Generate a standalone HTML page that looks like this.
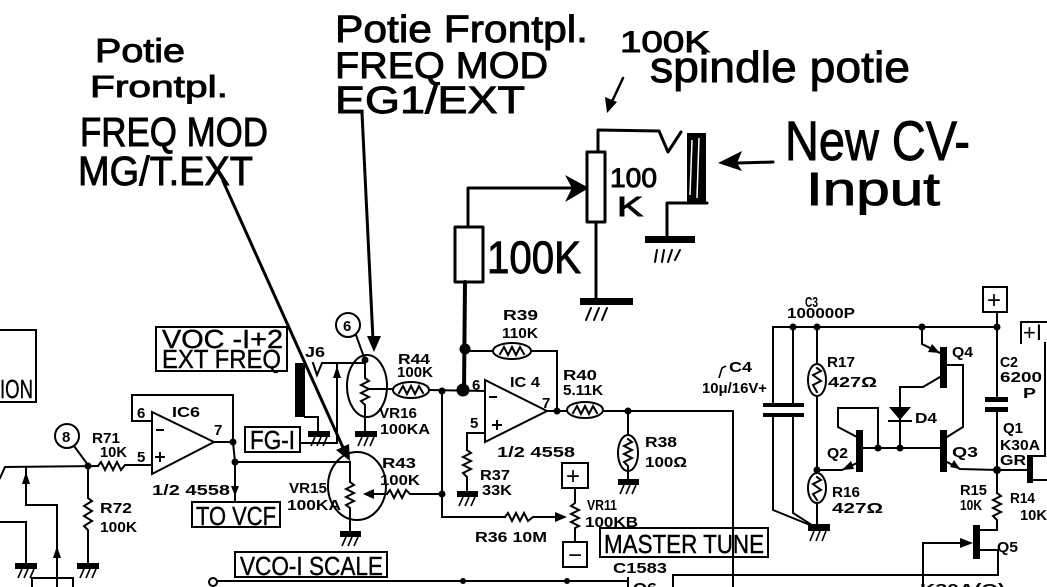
<!DOCTYPE html>
<html><head><meta charset="utf-8">
<style>
html,body{margin:0;padding:0;background:#fff;}
svg{display:block}
text{font-family:"Liberation Sans",sans-serif;fill:#000;stroke:none}
.b{font-weight:bold;font-size:15px}
.bx{font-weight:normal;font-size:26px;stroke:#000;stroke-width:0.4}
.h{font-weight:normal;stroke:#000;stroke-width:0.9}
</style></head><body>
<svg width="1047" height="587" viewBox="0 0 1047 587" xmlns="http://www.w3.org/2000/svg">
<rect width="1047" height="587" fill="#fff"/>

<!-- ===== handwritten annotations ===== -->
<text class="h" x="95" y="62" font-size="33" textLength="90" lengthAdjust="spacingAndGlyphs">Potie</text>
<text class="h" x="90" y="97" font-size="31" textLength="138" lengthAdjust="spacingAndGlyphs">Frontpl.</text>
<text class="h" x="80" y="146" font-size="41" textLength="188" lengthAdjust="spacingAndGlyphs">FREQ MOD</text>
<text class="h" x="78" y="185" font-size="41" textLength="175" lengthAdjust="spacingAndGlyphs">MG/T.EXT</text>

<text class="h" x="335" y="42" font-size="38" textLength="253" lengthAdjust="spacingAndGlyphs">Potie Frontpl.</text>
<text class="h" x="335" y="78" font-size="37" textLength="213" lengthAdjust="spacingAndGlyphs">FREQ MOD</text>
<text class="h" x="335" y="113" font-size="38" textLength="190" lengthAdjust="spacingAndGlyphs">EG1/EXT</text>

<text class="h" x="620" y="52" font-size="30" textLength="90" lengthAdjust="spacingAndGlyphs">100K</text>
<text class="h" x="650" y="82" font-size="44" textLength="260" lengthAdjust="spacingAndGlyphs">spindle potie</text>
<text class="h" x="785" y="160" font-size="56" textLength="185" lengthAdjust="spacingAndGlyphs">New CV-</text>
<text class="h" x="806" y="205" font-size="46" textLength="134" lengthAdjust="spacingAndGlyphs">Input</text>
<text class="h" x="487" y="273" font-size="45" textLength="94" lengthAdjust="spacingAndGlyphs">100K</text>
<text class="h" x="610" y="187" font-size="27" textLength="47" lengthAdjust="spacingAndGlyphs">100</text>
<text class="h" x="617" y="216" font-size="28" textLength="26" lengthAdjust="spacingAndGlyphs">K</text>

<g fill="none" stroke="#000" stroke-linecap="round" stroke-linejoin="round">
  <!-- pointer lines -->
  <line x1="223" y1="181" x2="345" y2="452" stroke-width="3"/>
  <line x1="362" y1="113" x2="373" y2="340" stroke-width="3"/>
  <!-- handwritten circuit -->
  <rect x="455" y="227" width="28" height="55" stroke-width="3"/>
  <polyline points="468,227 468,188 572,188" stroke-width="3"/>
  <rect x="587" y="152" width="18" height="70" stroke-width="3"/>
  <polyline points="598,152 598,130 659,131 668,152 681,132" stroke-width="3"/>
  <polyline points="707,203 667,203 667,237" stroke-width="3"/>
  <line x1="596" y1="222" x2="596" y2="299" stroke-width="3"/>
  <line x1="773" y1="162" x2="738" y2="163" stroke-width="3"/>
  <line x1="623" y1="78" x2="609" y2="108" stroke-width="2.5"/>
  <line x1="465" y1="282" x2="464" y2="390" stroke-width="4"/>
  <g stroke-width="2">
    <line x1="586" y1="320" x2="591" y2="308"/><line x1="594" y1="320" x2="599" y2="308"/><line x1="602" y1="320" x2="607" y2="308"/>
    <line x1="655" y1="262" x2="657" y2="250"/><line x1="662" y1="262" x2="664" y2="250"/><line x1="668" y1="262" x2="672" y2="250"/><line x1="675" y1="260" x2="680" y2="250"/>
  </g>
</g>
<g fill="#000" stroke="none">
  <polygon points="350,461 336,450 349,444"/>
  <polygon points="374,352 367,336 381,336"/>
  <polygon points="589,188 565,175 572,188 565,202"/>
  <polygon points="718,163 742,151 737,163 742,171"/>
  <polygon points="607,113 605,97 617,102"/>
  <rect x="687" y="133" width="19" height="70"/>
  <rect x="580" y="298" width="53" height="7"/>
  <rect x="645" y="236" width="50" height="7"/>
</g>
<g stroke="#fff" stroke-width="1.5">
  <line x1="692" y1="140" x2="690" y2="195"/><line x1="699" y1="138" x2="697" y2="198"/>
</g>

<!-- ===== printed schematic ===== -->
<g fill="none" stroke="#000" stroke-width="2" stroke-linecap="square" stroke-linejoin="miter">
  <polyline points="0,330 36,330 36,402 0,402"/>
  <rect x="156" y="327" width="131" height="44"/>
  <rect x="192" y="502" width="88" height="25"/>
  <rect x="245" y="427" width="55" height="25"/>
  <rect x="235" y="552" width="152" height="25"/>
  <rect x="600" y="528" width="168" height="29"/>
  <circle cx="67" cy="436" r="12"/>
  <line x1="74" y1="446" x2="88" y2="465"/>
  <polyline points="0,478 5,467 98,466"/>
  <path d="M98,466 L101,462 L105,470 L109,462 L113,470 L117,462 L121,470 L125,465 L152,465"/>
  <polyline points="26,467 26,505 57,505 57,587"/>
  <polyline points="0,522 26,522 26,565"/>
  <path d="M88,466 L88,498 L92,501 L84,506 L92,511 L84,516 L92,521 L84,526 L88,530 L88,565"/>
  <polyline points="32,587 32,578 73,578 73,587"/>
  <polygon points="152,412 152,474 214,442"/>
  <polyline points="152,421 132,421 132,395 233,395 233,442"/>
  <polyline points="214,442 233,442 235,462 348,462"/>
  <line x1="235" y1="462" x2="235" y2="502"/>
  <line x1="157" y1="430" x2="163" y2="430"/>
  <line x1="156" y1="457" x2="164" y2="457"/><line x1="160" y1="453" x2="160" y2="461"/>
  <polyline points="313,363 317,375 322,363 365,363"/>
  <line x1="337" y1="363" x2="337" y2="443"/>
  <line x1="300" y1="443" x2="337" y2="443"/>
  <polyline points="305,417 318,417 318,433"/>
  <circle cx="348" cy="325" r="12"/>
  <line x1="356" y1="335" x2="365" y2="360"/>
  <ellipse cx="367" cy="386" rx="20" ry="31"/>
  <path d="M365,360 L365,378 L369,381 L361,385 L369,389 L361,393 L369,397 L361,401 L365,405 L365,433"/>
  <line x1="369" y1="389" x2="393" y2="389"/>
  <ellipse cx="411" cy="390" rx="18" ry="8"/>
  <path d="M399,393 L403,386 L407,394 L411,386 L415,394 L419,386 L423,393"/>
  <line x1="429" y1="390" x2="485" y2="391"/>
  <ellipse cx="357" cy="486" rx="29" ry="34"/>
  <path d="M350,462 L350,482 L354,485 L346,489 L354,493 L346,497 L354,501 L346,505 L350,508 L350,533"/>
  <line x1="366" y1="494" x2="387" y2="494"/>
  <path d="M387,494 L390,490 L394,498 L398,490 L402,498 L406,490 L410,494 L442,494"/>
  <polyline points="442,391 442,517 505,517"/>
  <path d="M505,517 L508,513 L512,521 L516,513 L520,521 L524,513 L528,521 L533,517 L558,517"/>
  <line x1="465" y1="351" x2="493" y2="351"/>
  <ellipse cx="512" cy="351" rx="19" ry="8"/>
  <path d="M500,354 L504,347 L508,355 L512,347 L516,355 L520,347 L524,354"/>
  <polyline points="531,351 557,351 557,411"/>
  <polygon points="485,380 485,442 547,411"/>
  <line x1="490" y1="397" x2="496" y2="397"/>
  <line x1="493" y1="425" x2="501" y2="425"/><line x1="497" y1="421" x2="497" y2="429"/>
  <polyline points="485,433 467,433 467,450"/>
  <path d="M467,450 L471,453 L463,457 L471,461 L463,465 L471,469 L463,473 L467,477 L467,493"/>
  <line x1="547" y1="411" x2="567" y2="411"/>
  <ellipse cx="585" cy="410" rx="18" ry="8"/>
  <path d="M573,413 L577,406 L581,414 L585,406 L589,414 L593,406 L597,413"/>
  <polyline points="603,411 733,411 733,587"/>
  <line x1="628" y1="411" x2="628" y2="435"/>
  <ellipse cx="628" cy="453" rx="10" ry="18"/>
  <path d="M628,439 L632,442 L624,446 L632,450 L624,454 L632,458 L624,462 L628,466 L628,481"/>
  <rect x="562" y="463" width="26" height="25"/>
  <path d="M575,488 L575,503 L571,506 L579,510 L571,514 L579,518 L571,522 L579,526 L575,528 L575,542"/>
  <rect x="563" y="542" width="24" height="25"/>
  <circle cx="213" cy="582" r="4"/>
  <line x1="217" y1="581" x2="628" y2="581"/>
  <line x1="628" y1="578" x2="628" y2="587"/>
  <polyline points="673,587 673,575 998,575 998,550 980,550"/>
  <line x1="923" y1="543" x2="923" y2="587"/>
  <line x1="923" y1="543" x2="962" y2="543"/>
  <line x1="773" y1="327" x2="997" y2="327"/>
  <polyline points="773,327 773,404"/>
  <polyline points="773,416 773,510 815,527"/>
  <polyline points="793,327 793,404"/>
  <polyline points="793,416 793,513 815,527"/>
  <line x1="817" y1="327" x2="817" y2="364"/>
  <ellipse cx="817" cy="380" rx="9" ry="16"/>
  <path d="M817,368 L821,371 L813,375 L817,378 L821,381 L813,385 L817,392"/>
  <line x1="817" y1="396" x2="817" y2="473"/>
  <ellipse cx="817" cy="488" rx="9" ry="15"/>
  <path d="M817,477 L821,480 L813,484 L817,487 L821,490 L813,494 L817,500"/>
  <line x1="817" y1="503" x2="817" y2="525"/>
  <polyline points="857,437 838,427 838,408 878,408 878,448"/>
  <line x1="863" y1="448" x2="940" y2="448"/>
  <polyline points="857,463 842,470 817,470"/>
  <line x1="900" y1="387" x2="900" y2="448"/>
  <line x1="889" y1="421" x2="911" y2="421"/>
  <polyline points="922,327 922,344 940,353"/>
  <polyline points="947,365 963,365 963,427 947,437"/>
  <polyline points="940,377 923,387 900,387"/>
  <polyline points="947,462 960,469 997,470"/>
  <rect x="983" y="287" width="24" height="25"/>
  <line x1="997" y1="312" x2="997" y2="398"/>
  <line x1="997" y1="411" x2="997" y2="493"/>
  <line x1="997" y1="470" x2="1027" y2="470"/>
  <path d="M997,493 L1001,496 L993,500 L1001,504 L993,508 L1001,512 L993,516 L997,520 L997,530 L980,530"/>
  <polyline points="1021,343 1021,322 1047,322"/>
  <polyline points="1033,456 1045,456 1045,343"/>
  <line x1="1033" y1="480" x2="1047" y2="480"/>
</g>

<g fill="#000" stroke="none">
  <circle cx="88" cy="466" r="3.5"/>
  <circle cx="233" cy="442" r="3.5"/>
  <circle cx="235" cy="462" r="3.5"/>
  <circle cx="365" cy="360" r="3.5"/>
  <circle cx="442" cy="391" r="3.5"/>
  <circle cx="442" cy="494" r="3.5"/>
  <circle cx="465" cy="349" r="5.5"/>
  <circle cx="463" cy="390" r="6.5"/>
  <circle cx="557" cy="411" r="3.5"/>
  <circle cx="628" cy="411" r="3.5"/>
  <circle cx="463" cy="581" r="3"/>
  <circle cx="567" cy="581" r="3"/>
  <circle cx="793" cy="327" r="3.5"/>
  <circle cx="817" cy="327" r="3.5"/>
  <circle cx="922" cy="327" r="3.5"/>
  <circle cx="997" cy="327" r="3.5"/>
  <circle cx="817" cy="470" r="3.5"/>
  <circle cx="878" cy="448" r="3.5"/>
  <circle cx="900" cy="448" r="3.5"/>
  <circle cx="997" cy="470" r="4"/>
  <rect x="295" y="363" width="10" height="54"/>
  <polygon points="26,472 22,484 30,484"/>
  <polygon points="57,546 53,558 61,558"/>
  <polygon points="235,496 231,486 239,486"/>
  <polygon points="337,366 333,378 341,378"/>
  <polygon points="363,494 374,489 374,499"/>
  <polygon points="567,517 555,512 555,522"/>
  <polygon points="973,543 960,538 960,548"/>
  <polygon points="940,353 928,352 932,344"/>
  <polygon points="842,470 851,461 854,469"/>
  <polygon points="960,469 950,467 954,460"/>
  <rect x="763" y="403" width="21" height="4"/><rect x="763" y="413" width="21" height="4"/>
  <rect x="783" y="403" width="21" height="4"/><rect x="783" y="413" width="21" height="4"/>
  <rect x="985" y="397" width="23" height="5"/><rect x="985" y="407" width="23" height="5"/>
  <rect x="856" y="430" width="7" height="42"/>
  <rect x="940" y="347" width="7" height="41"/>
  <rect x="940" y="430" width="7" height="42"/>
  <rect x="1027" y="455" width="6" height="28"/>
  <rect x="973" y="525" width="7" height="34"/>
  <polygon points="889,407 911,407 900,420"/>
  <rect x="15" y="563" width="22" height="6"/>
  <rect x="77" y="563" width="22" height="6"/>
  <rect x="308" y="431" width="22" height="6"/>
  <rect x="355" y="431" width="22" height="6"/>
  <rect x="340" y="531" width="21" height="6"/>
  <rect x="457" y="491" width="21" height="6"/>
  <rect x="618" y="479" width="21" height="6"/>
  <rect x="808" y="524" width="22" height="7"/>
</g>
<g fill="none" stroke="#000" stroke-width="1.6">
  <path d="M18,578 L22,569 M24,578 L28,569 M30,578 L34,569"/>
  <path d="M80,578 L84,569 M86,578 L90,569 M92,578 L96,569"/>
  <path d="M311,446 L315,437 M317,446 L321,437 M323,446 L327,437"/>
  <path d="M358,446 L362,437 M364,446 L368,437 M370,446 L374,437"/>
  <path d="M342,546 L346,537 M348,546 L352,537 M354,546 L358,537"/>
  <path d="M459,506 L463,497 M465,506 L469,497 M471,506 L475,497"/>
  <path d="M620,494 L624,485 M626,494 L630,485 M632,494 L636,485"/>
  <path d="M810,541 L814,531 M816,541 L820,531 M822,541 L826,531"/>
  <path d="M719,378 L722,368 L726,366"/>
</g>

<text class="bx" x="0" y="398" font-size="24" textLength="33" lengthAdjust="spacingAndGlyphs">ION</text>
<text class="bx" x="162" y="348" font-size="22" textLength="121" lengthAdjust="spacingAndGlyphs">VOC -I+2</text>
<text class="bx" x="162" y="368" font-size="23" textLength="119" lengthAdjust="spacingAndGlyphs">EXT FREQ</text>
<text class="bx" x="196" y="525" textLength="80" lengthAdjust="spacingAndGlyphs">TO VCF</text>
<text class="bx" x="250" y="449" font-size="25" textLength="45" lengthAdjust="spacingAndGlyphs">FG-I</text>
<text class="bx" x="240" y="575" textLength="143" lengthAdjust="spacingAndGlyphs">VCO-I SCALE</text>
<text class="bx" x="604" y="553" textLength="160" lengthAdjust="spacingAndGlyphs">MASTER TUNE</text>

<text class="b" x="62" y="442" font-size="16">8</text>
<text class="b" x="343" y="331" font-size="16">6</text>
<text class="b" x="92" y="443" textLength="28" lengthAdjust="spacingAndGlyphs">R71</text>
<text class="b" x="100" y="457" textLength="27" lengthAdjust="spacingAndGlyphs">10K</text>
<text class="b" x="100" y="513" textLength="32" lengthAdjust="spacingAndGlyphs">R72</text>
<text class="b" x="100" y="532" textLength="37" lengthAdjust="spacingAndGlyphs">100K</text>
<text class="b" x="172" y="417" textLength="28" lengthAdjust="spacingAndGlyphs">IC6</text>
<text class="b" x="137" y="418">6</text>
<text class="b" x="214" y="435">7</text>
<text class="b" x="137" y="462">5</text>
<text class="b" x="152" y="495" textLength="78" lengthAdjust="spacingAndGlyphs">1/2 4558</text>
<text class="b" x="305" y="357" textLength="20" lengthAdjust="spacingAndGlyphs">J6</text>
<text class="b" x="398" y="364" textLength="32" lengthAdjust="spacingAndGlyphs">R44</text>
<text class="b" x="397" y="377" textLength="36" lengthAdjust="spacingAndGlyphs">100K</text>
<text class="b" x="379" y="418" textLength="38" lengthAdjust="spacingAndGlyphs">VR16</text>
<text class="b" x="380" y="434" textLength="50" lengthAdjust="spacingAndGlyphs">100KA</text>
<text class="b" x="382" y="468" textLength="34" lengthAdjust="spacingAndGlyphs">R43</text>
<text class="b" x="380" y="485" textLength="40" lengthAdjust="spacingAndGlyphs">100K</text>
<text class="b" x="289" y="493" textLength="38" lengthAdjust="spacingAndGlyphs">VR15</text>
<text class="b" x="287" y="510" textLength="54" lengthAdjust="spacingAndGlyphs">100KA</text>
<text class="b" x="503" y="320" textLength="35" lengthAdjust="spacingAndGlyphs">R39</text>
<text class="b" x="502" y="338" textLength="36" lengthAdjust="spacingAndGlyphs">110K</text>
<text class="b" x="510" y="387" textLength="30" lengthAdjust="spacingAndGlyphs">IC 4</text>
<text class="b" x="472" y="390" font-size="13">6</text>
<text class="b" x="470" y="428">5</text>
<text class="b" x="542" y="408">7</text>
<text class="b" x="497" y="457" textLength="78" lengthAdjust="spacingAndGlyphs">1/2 4558</text>
<text class="b" x="563" y="380" textLength="34" lengthAdjust="spacingAndGlyphs">R40</text>
<text class="b" x="563" y="395" textLength="40" lengthAdjust="spacingAndGlyphs">5.11K</text>
<text class="b" x="480" y="480" textLength="30" lengthAdjust="spacingAndGlyphs">R37</text>
<text class="b" x="482" y="495" textLength="30" lengthAdjust="spacingAndGlyphs">33K</text>
<text class="b" x="645" y="447" textLength="32" lengthAdjust="spacingAndGlyphs">R38</text>
<text class="b" x="645" y="467" textLength="42" lengthAdjust="spacingAndGlyphs">100Ω</text>
<text class="b" x="587" y="510" textLength="30" lengthAdjust="spacingAndGlyphs">VR11</text>
<text class="b" x="585" y="527" textLength="53" lengthAdjust="spacingAndGlyphs">100KB</text>
<text class="b" x="475" y="542" textLength="72" lengthAdjust="spacingAndGlyphs">R36 10M</text>
<text class="b" x="613" y="573" textLength="54" lengthAdjust="spacingAndGlyphs">C1583</text>
<text class="b" x="633" y="593" textLength="24" lengthAdjust="spacingAndGlyphs">Q6</text>
<text class="b" x="920" y="594" textLength="85" lengthAdjust="spacingAndGlyphs">K30A(O)</text>
<text x="566" y="484" font-size="24">+</text>
<text x="568" y="563" font-size="24">−</text>
<text x="987" y="308" font-size="24">+</text>
<text x="1023" y="340" font-size="22">+I</text>

<text class="b" x="729" y="372" textLength="23" lengthAdjust="spacingAndGlyphs">C4</text>
<text class="b" x="702" y="393" textLength="65" lengthAdjust="spacingAndGlyphs">10μ/16V+</text>
<text class="b" x="805" y="307" textLength="13" lengthAdjust="spacingAndGlyphs">C3</text>
<text class="b" x="787" y="318" textLength="68" lengthAdjust="spacingAndGlyphs">100000P</text>
<text class="b" x="827" y="367" textLength="28" lengthAdjust="spacingAndGlyphs">R17</text>
<text class="b" x="828" y="387" textLength="49" lengthAdjust="spacingAndGlyphs">427Ω</text>
<text class="b" x="832" y="497" textLength="28" lengthAdjust="spacingAndGlyphs">R16</text>
<text class="b" x="832" y="513" textLength="51" lengthAdjust="spacingAndGlyphs">427Ω</text>
<text class="b" x="827" y="458" textLength="21" lengthAdjust="spacingAndGlyphs">Q2</text>
<text class="b" x="952" y="357" textLength="21" lengthAdjust="spacingAndGlyphs">Q4</text>
<text class="b" x="915" y="423" textLength="22" lengthAdjust="spacingAndGlyphs">D4</text>
<text class="b" x="952" y="457" textLength="26" lengthAdjust="spacingAndGlyphs">Q3</text>
<text class="b" x="1000" y="367" textLength="18" lengthAdjust="spacingAndGlyphs">C2</text>
<text class="b" x="1000" y="382" textLength="42" lengthAdjust="spacingAndGlyphs">6200</text>
<text class="b" x="1023" y="398" textLength="13" lengthAdjust="spacingAndGlyphs">P</text>
<text class="b" x="1003" y="433" textLength="20" lengthAdjust="spacingAndGlyphs">Q1</text>
<text class="b" x="1000" y="450" textLength="40" lengthAdjust="spacingAndGlyphs">K30A</text>
<text class="b" x="1000" y="465" textLength="26" lengthAdjust="spacingAndGlyphs">GR</text>
<text class="b" x="960" y="495" textLength="27" lengthAdjust="spacingAndGlyphs">R15</text>
<text class="b" x="960" y="510" textLength="22" lengthAdjust="spacingAndGlyphs">10K</text>
<text class="b" x="1010" y="503" textLength="25" lengthAdjust="spacingAndGlyphs">R14</text>
<text class="b" x="1020" y="520" textLength="27" lengthAdjust="spacingAndGlyphs">10K</text>
<text class="b" x="997" y="552" textLength="21" lengthAdjust="spacingAndGlyphs">Q5</text>
</svg>
</body></html>
